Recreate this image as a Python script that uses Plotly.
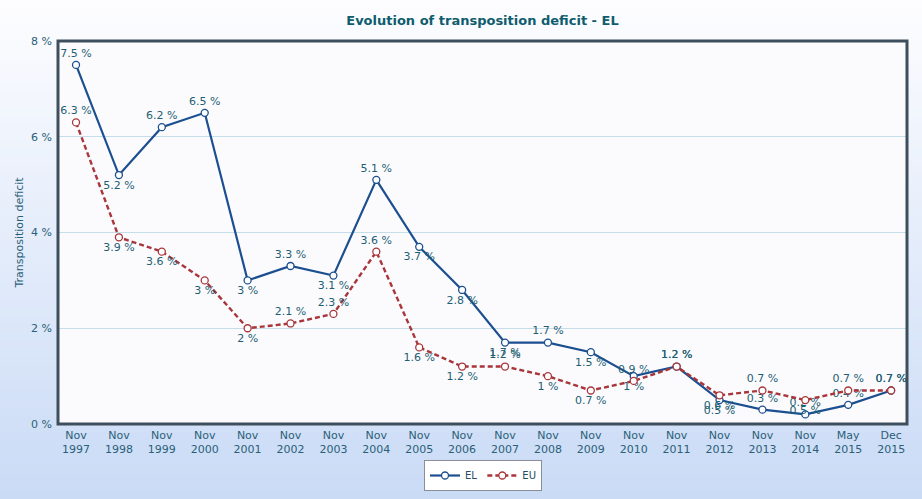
import plotly.graph_objects as go

categories = ["Nov<br>1997", "Nov<br>1998", "Nov<br>1999", "Nov<br>2000", "Nov<br>2001",
              "Nov<br>2002", "Nov<br>2003", "Nov<br>2004", "Nov<br>2005", "Nov<br>2006",
              "Nov<br>2007", "Nov<br>2008", "Nov<br>2009", "Nov<br>2010", "Nov<br>2011",
              "Nov<br>2012", "Nov<br>2013", "Nov<br>2014", "May<br>2015", "Dec<br>2015"]
el_values = [7.5, 5.2, 6.2, 6.5, 3.0, 3.3, 3.1, 5.1, 3.7, 2.8,
             1.7, 1.7, 1.5, 1.0, 1.2, 0.5, 0.3, 0.2, 0.4, 0.7]
eu_values = [6.3, 3.9, 3.6, 3.0, 2.0, 2.1, 2.3, 3.6, 1.6, 1.2,
             1.2, 1.0, 0.7, 0.9, 1.2, 0.6, 0.7, 0.5, 0.7, 0.7]
el_label_pos = ["top", "bottom", "top", "top", "bottom", "top", "bottom", "top", "bottom", "bottom",
                "bottom", "top", "bottom", "bottom", "top", "bottom", "top", "top", "top", "top"]
eu_label_pos = ["top", "bottom", "bottom", "bottom", "bottom", "top", "top", "top", "bottom", "bottom",
                "top", "bottom", "bottom", "top", "top", "bottom", "top", "bottom", "top", "top"]
y_ticks = [0, 2, 4, 6, 8]

FONT = "DejaVu Sans"
LABEL_COLOR = "#1e5f73"
AXIS_COLOR = "#2a6078"
W, H = 922, 499
ML, MR, MT, MB = 58, 15, 41, 75
plot_h = H - MT - MB


def fmt(v):
    return f"{v:g} %"


fig = go.Figure()
fig.add_trace(go.Scatter(
    x=categories, y=el_values, name="EL", mode="lines+markers+text",
    line=dict(color="#1c4f8f", width=2.2),
    marker=dict(symbol="circle", size=7, color="white", line=dict(color="#1c4f8f", width=1.3)),
    text=[fmt(v) for v in el_values],
    textposition=[p + " center" for p in el_label_pos],
    textfont=dict(family=FONT, size=11, color=LABEL_COLOR),
    cliponaxis=False,
))
fig.add_trace(go.Scatter(
    x=categories, y=eu_values, name="EU", mode="lines+markers+text",
    line=dict(color="#a8363a", width=2.4, dash="5px,3px"),
    marker=dict(symbol="circle", size=7, color="white", line=dict(color="#a8363a", width=1.3)),
    text=[fmt(v) for v in eu_values],
    textposition=[p + " center" for p in eu_label_pos],
    textfont=dict(family=FONT, size=11, color=LABEL_COLOR),
    cliponaxis=False,
))

# background gradient (style only)
shapes = []
n = 60
y_bot = -MB / plot_h
y_top = 1 + MT / plot_h
c0 = (253, 253, 255)
c1 = (202, 219, 246)
for i in range(n):
    t = i / (n - 1)
    r = round(c0[0] + (c1[0] - c0[0]) * t)
    g = round(c0[1] + (c1[1] - c0[1]) * t)
    b = round(c0[2] + (c1[2] - c0[2]) * t)
    ya = y_top - (y_top - y_bot) * i / n
    yb = y_top - (y_top - y_bot) * (i + 1) / n
    shapes.append(dict(type="rect", xref="paper", yref="paper", x0=-ML / (W - ML - MR) - 0.01,
                       x1=1 + MR / (W - ML - MR) + 0.01, y0=yb - 0.002, y1=ya + 0.002,
                       fillcolor=f"rgb({r},{g},{b})", line=dict(width=0), layer="below"))
shapes.append(dict(type="rect", xref="paper", yref="paper", x0=0, x1=1, y0=0, y1=1,
                   fillcolor="#fbfbfe", line=dict(width=0), layer="below"))
shapes.append(dict(type="rect", xref="paper", yref="paper", x0=0, x1=1, y0=0, y1=1,
                   fillcolor="rgba(0,0,0,0)", line=dict(color="#3e4e5c", width=3), layer="above"))

fig.update_layout(
    width=W, height=H,
    margin=dict(l=ML, r=MR, t=MT, b=MB, autoexpand=False),
    paper_bgcolor="#f4f7fd",
    plot_bgcolor="#fbfbfe",
    font=dict(family=FONT, size=11, color=LABEL_COLOR),
    title=dict(text="<b>Evolution of transposition deficit - EL</b>", x=(ML + (W - ML - MR) / 2) / W,
               xanchor="center", y=1 - 20 / H, yanchor="middle",
               font=dict(family=FONT, size=13, color="#0f5c6e")),
    showlegend=True,
    legend=dict(orientation="h", x=(483 - ML) / (W - ML - MR), xanchor="center",
                y=-(460 - (H - MB)) / plot_h, yanchor="top",
                bgcolor="white", bordercolor="#8a8f96", borderwidth=1,
                itemwidth=30, tracegroupgap=0,
                font=dict(family=FONT, size=10, color="#274a66")),
    shapes=shapes,
    xaxis=dict(type="category", range=[-0.42, 19.37], showgrid=False, zeroline=False,
               showline=False, ticks="", ticklabelstandoff=3, automargin=False,
               tickfont=dict(family=FONT, size=11, color=AXIS_COLOR),
               fixedrange=True),
    yaxis=dict(range=[0, 8], tickvals=y_ticks, ticktext=[f"{v} %" for v in y_ticks],
               showgrid=True, gridcolor="#c5dce9", gridwidth=1, zeroline=False, showline=False,
               ticks="", ticklabelstandoff=5, automargin=False,
               tickfont=dict(family=FONT, size=11, color=AXIS_COLOR),
               title=dict(text="Transposition deficit", font=dict(family=FONT, size=11, color=AXIS_COLOR),
                          standoff=5),
               fixedrange=True),
)

fig.write_html("out.html")
